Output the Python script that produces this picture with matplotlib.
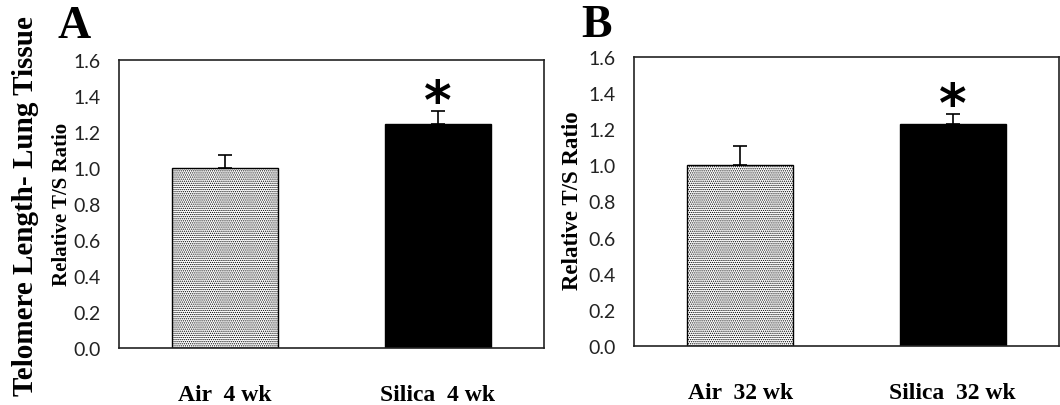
import matplotlib
matplotlib.use('Agg')
import matplotlib.pyplot as plt

# data
categories_a = ['Air  4 wk', 'Silica  4 wk']
values_a = [1.00, 1.245]
errors_a = [0.07, 0.07]

categories_b = ['Air  32 wk', 'Silica  32 wk']
values_b = [1.00, 1.228]
errors_b = [0.108, 0.055]

yticks = [0.0, 0.2, 0.4, 0.6, 0.8, 1.0, 1.2, 1.4, 1.6]

plt.rcParams['hatch.color'] = '#555555'
plt.rcParams['hatch.linewidth'] = 0.6

serif = 'Liberation Serif'
tickfont = 'Lato'

fig = plt.figure(figsize=(10.6, 4.06), dpi=100)
W, H = 1060, 406
ax_a = fig.add_axes([119 / W, 1 - 349 / H, (544 - 119) / W, (349 - 60.7) / H])
ax_b = fig.add_axes([634 / W, 1 - 346.7 / H, (1059 - 634) / W, (346.7 - 58.3) / H])


def draw(ax, cats, vals, errs):
    x = range(len(cats))
    ax.bar(x, vals, width=0.5, color=['white', 'black'], edgecolor='black',
           linewidth=1.0, hatch=['........', None], zorder=2)
    ax.errorbar(x, vals, yerr=[[0, 0], errs], fmt='none', ecolor='black',
                elinewidth=1.2, capsize=5, capthick=1.2, zorder=3)
    ax.set_xlim(-0.5, 1.5)
    ax.set_ylim(0, 1.6)
    ax.set_yticks(yticks)
    ax.set_yticklabels([f'{t:.1f}' for t in yticks], fontsize=14, family=tickfont,
                       color='#222222')
    ax.set_xticks(list(x))
    ax.set_xticklabels(cats, fontsize=17, family=serif, fontweight='bold')
    ax.tick_params(axis='both', length=0)
    ax.tick_params(axis='y', pad=13)
    ax.tick_params(axis='x', pad=26)
    for s in ax.spines.values():
        s.set_linewidth(1.2)
        s.set_color('#222222')
    # significance star above silica bar
    ax.text(1, vals[1] + errs[1] + 0.045, '*', ha='center', va='center',
            fontsize=38, fontweight='bold', family='DejaVu Sans')


draw(ax_a, categories_a, values_a, errors_a)
draw(ax_b, categories_b, values_b, errors_b)

ax_a.set_ylabel('Relative T/S Ratio', fontsize=15, family=serif, fontweight='bold')
ax_b.set_ylabel('Relative T/S Ratio', fontsize=16.5, family=serif, fontweight='bold')
ax_a.yaxis.set_label_coords(-0.111, 0.5)
ax_b.yaxis.set_label_coords(-0.12, 0.505)

fig.text(26 / W, 1 - 206 / H, 'Telomere Length- Lung Tissue', rotation=90, ha='center',
         va='center', fontsize=21, family=serif, fontweight='bold')
fig.text(57 / W, 1 - 27 / H, 'A', ha='left', va='center', fontsize=33,
         family=serif, fontweight='bold')
fig.text(581 / W, 1 - 26 / H, 'B', ha='left', va='center', fontsize=33,
         family=serif, fontweight='bold')

plt.savefig('out.png', dpi=100)
plt.close()
